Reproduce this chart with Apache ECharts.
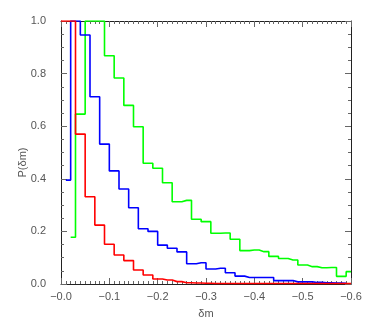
<!DOCTYPE html>
<html lang="en">
<head>
	<meta charset="UTF-8">
	<title>P(dm)</title>
	<script src="https://cdn.jsdelivr.net/npm/echarts@6/dist/echarts.min.js"></script>
	<style>
		html,body{margin:0;padding:0;background:#fff;}
	</style>
</head>
<body>
	<div id="app" style="width: 366px;height:327px"></div>

	<script>
		// bin centres (in -dm) and heights
		var redX = [0.00,0.02,0.04,0.06,0.08,0.10,0.12,0.14,0.16,0.18,0.20,0.22,0.24,0.26,0.28,0.30,0.32,0.34,0.36,0.38,0.40,0.42,0.44,0.46,0.48,0.50,0.52,0.54,0.56,0.58,0.60];
		var redY = [1.0,1.0,0.57,0.332,0.224,0.151,0.11,0.089,0.053,0.034,0.019,0.015,0.009,0.005,0.004,0.003,0.002,0.002,0.002,0.002,0.002,0.002,0.002,0.002,0.002,0.002,0.002,0.002,0.002,0.002,0.002];

		var blueX = [0.01,0.03,0.05,0.07,0.09,0.11,0.13,0.15,0.17,0.19,0.21,0.23,0.25,0.27,0.29,0.31,0.33,0.35,0.37,0.39,0.41,0.43,0.45,0.47,0.49,0.51,0.53,0.55,0.57,0.59];
		var blueY = [0.395,1.0,0.947,0.712,0.532,0.43,0.361,0.29,0.21,0.2,0.148,0.136,0.122,0.077,0.081,0.057,0.06,0.043,0.03,0.025,0.025,0.025,0.013,0.013,0.008,0.008,0.006,0.005,0.004,0.003];

		var greenX = [0.02,0.04,0.06,0.08,0.10,0.12,0.14,0.16,0.18,0.20,0.22,0.24,0.26,0.28,0.30,0.32,0.34,0.36,0.38,0.40,0.42,0.44,0.46,0.48,0.50,0.52,0.54,0.56,0.58,0.60];
		var greenY = [0.178,0.646,1.0,1.0,0.868,0.783,0.679,0.598,0.459,0.44,0.385,0.313,0.318,0.246,0.237,0.193,0.194,0.17,0.127,0.129,0.123,0.105,0.097,0.091,0.072,0.066,0.062,0.063,0.029,0.047];

		var xTicks = [0.0,-0.1,-0.2,-0.3,-0.4,-0.5,-0.6];
		var yTicks = [0.0,0.2,0.4,0.6,0.8,1.0];

		function pairs(xs, ys){
			return xs.map(function(x,i){return [-x, ys[i]];});
		}

		var font = 'Liberation Sans';
		var lineCol = '#222';
		var tickCol = '#666';

		function xAx(pos, labels){
			return {
				type:'value', position:pos, min:-0.6, max:0, interval:0.1, inverse:true,
				axisLine:{show:true,onZero:false,lineStyle:{color:lineCol,width:1}},
				axisTick:{show:true,inside:true,length:6,lineStyle:{color:tickCol}},
				minorTick:{show:true,splitNumber:10,length:3,lineStyle:{color:tickCol}},
				splitLine:{show:false},
				axisLabel:{show:labels,margin:7,color:'#555',fontFamily:font,fontSize:11,
					formatter:function(v){ return (v<=0?'\u2212':'')+Math.abs(v).toFixed(1); }},
				name: labels ? '\u03b4m' : '',
				nameLocation:'middle', nameGap:24, nameMoveOverlap:false,
				nameTextStyle:{color:'#555',fontFamily:font,fontSize:11}
			};
		}
		function yAx(pos, labels){
			return {
				type:'value', position:pos, min:0, max:1, interval:0.2,
				axisLine:{show:true,onZero:false,lineStyle:{color:lineCol,width:1}},
				axisTick:{show:true,inside:true,length:6,lineStyle:{color:tickCol}},
				minorTick:{show:true,splitNumber:4,length:3,lineStyle:{color:tickCol}},
				splitLine:{show:false},
				axisLabel:{show:labels,margin:15,color:'#555',fontFamily:font,fontSize:11,
					formatter:function(v){ return v.toFixed(1); }},
				name: labels ? 'P(\u03b4m)' : '',
				nameLocation:'middle', nameGap:33, nameMoveOverlap:false,
				nameTextStyle:{color:'#555',fontFamily:font,fontSize:11,padding:[0,20,0,0]}
			};
		}

		function histo(name, xs, ys, col){
			return {
				name:name, type:'line', step:'middle', showSymbol:false, animation:false,
				data:pairs(xs, ys), xAxisIndex:0, yAxisIndex:0,
				lineStyle:{color:col,width:1.6}
			};
		}

		var myChart=echarts.init(document.getElementById('app'));
		var option={
			animation:false,
			grid:{left:61,right:15,top:21,bottom:43},
			xAxis:[xAx('bottom',true), xAx('top',false)],
			yAxis:[yAx('left',true), yAx('right',false)],
			series:[
				histo('green', greenX, greenY, '#00ff00'),
				histo('blue', blueX, blueY, '#0000ff'),
				histo('red', redX, redY, '#ff0000')
			]
		};
		myChart.setOption(option);
	</script>
</body>
</html>
